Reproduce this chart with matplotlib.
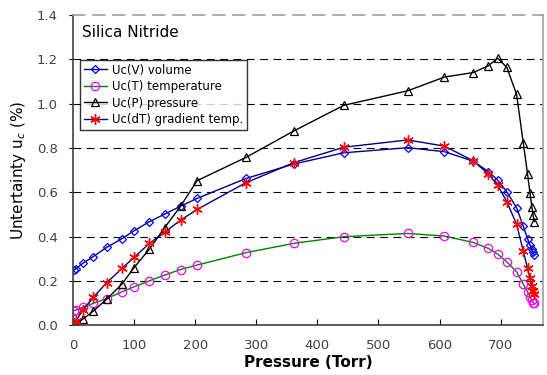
import numpy as np
import matplotlib.pyplot as plt

# Pressure (Torr) of the measurement points
pressure = [1, 5, 16, 33, 55, 80, 100, 125, 150, 176, 203, 283, 361, 443, 548,
            608, 655, 680, 695, 710, 726, 737, 744, 748, 751, 753, 755]

# Uncertainty components (%)
uc_volume = [0.248, 0.255, 0.279, 0.309, 0.351, 0.390, 0.426, 0.467, 0.501, 0.537,
             0.572, 0.662, 0.727, 0.778, 0.801, 0.783, 0.740, 0.693, 0.655, 0.602,
             0.530, 0.447, 0.390, 0.361, 0.342, 0.331, 0.316]
uc_temp = [0.065, 0.068, 0.080, 0.098, 0.120, 0.150, 0.173, 0.200, 0.226, 0.251,
           0.271, 0.327, 0.369, 0.399, 0.414, 0.402, 0.373, 0.346, 0.321, 0.286,
           0.241, 0.185, 0.150, 0.128, 0.113, 0.102, 0.098]
uc_press = [0.000, 0.005, 0.027, 0.063, 0.117, 0.185, 0.260, 0.343, 0.440, 0.537,
            0.652, 0.757, 0.876, 0.992, 1.058, 1.120, 1.140, 1.171, 1.205, 1.164,
            1.042, 0.823, 0.682, 0.595, 0.534, 0.497, 0.467]
uc_grad = [0.008, 0.020, 0.068, 0.125, 0.191, 0.256, 0.306, 0.369, 0.419, 0.474,
           0.522, 0.643, 0.733, 0.803, 0.836, 0.808, 0.742, 0.682, 0.632, 0.557,
           0.456, 0.334, 0.256, 0.211, 0.178, 0.155, 0.140]

labels = ['Uc(V) volume', 'Uc(T) temperature', 'Uc(P) pressure',
          'Uc(dT) gradient temp.']

plt.rcParams['font.family'] = ['DejaVu Sans']

fig = plt.figure(figsize=(5.47, 3.75), dpi=100)
ax = fig.add_axes([0.1335, 0.133, 0.860, 0.827])

star = (6, 2, 0)
ax.plot(pressure, uc_volume, color='#000080', lw=1.0, marker='D', ms=4.2,
        mfc='none', mec='#0000FF', mew=0.9, label=labels[0])
ax.plot(pressure, uc_temp, color='#008000', lw=1.0, marker='o', ms=6,
        mfc='none', mec='#FF00FF', mew=0.9, label=labels[1])
ax.plot(pressure, uc_press, color='black', lw=1.0, marker='^', ms=5.5,
        mfc='none', mec='black', mew=0.9, label=labels[2])
ax.plot(pressure, uc_grad, color='#000080', lw=1.0, marker=star, ms=7.5,
        mec='#FF0000', mew=1.0, label=labels[3])

ax.set_xlim(0, 770)
ax.set_ylim(0, 1.4)
ax.set_xticks(np.arange(0, 701, 100))
ax.set_yticks(np.arange(0, 1.41, 0.2))
ax.set_yticklabels(['%.1f' % v for v in np.arange(0, 1.41, 0.2)])

# dashed horizontal gridlines
for y in np.arange(0.2, 1.21, 0.2):
    ax.axhline(y, color='black', lw=0.8, dashes=(7, 5), zorder=0)

for s in ['top', 'right']:
    ax.spines[s].set_color('#A0A0A0')
    ax.spines[s].set_linewidth(1.2)
ax.spines['top'].set_linestyle((0, (7, 5)))
for s in ['left', 'bottom']:
    ax.spines[s].set_color('#404040')
    ax.spines[s].set_linewidth(1.2)

ax.tick_params(axis='x', direction='in', length=4, labelsize=9.5,
               labelcolor='#404040', pad=10)
ax.tick_params(axis='y', direction='out', length=3, labelsize=9.5,
               labelcolor='#404040', pad=8)

ax.set_xlabel('Pressure (Torr)', fontsize=11, fontweight='bold', labelpad=2)
ax.set_ylabel('Untertainty u$_c$ (%)', fontsize=11, labelpad=6)

ax.text(0.02, 0.945, 'Silica Nitride', transform=ax.transAxes, fontsize=11,
        va='center', ha='left')

leg = ax.legend(loc='upper left', bbox_to_anchor=(0.015, 0.855), fontsize=8.5,
                frameon=True, fancybox=False, edgecolor='black',
                borderaxespad=0, handlelength=2.0, labelspacing=0.3,
                borderpad=0.3, handletextpad=0.4)
leg.get_frame().set_linewidth(1.0)

fig.savefig('out.png', dpi=100)
